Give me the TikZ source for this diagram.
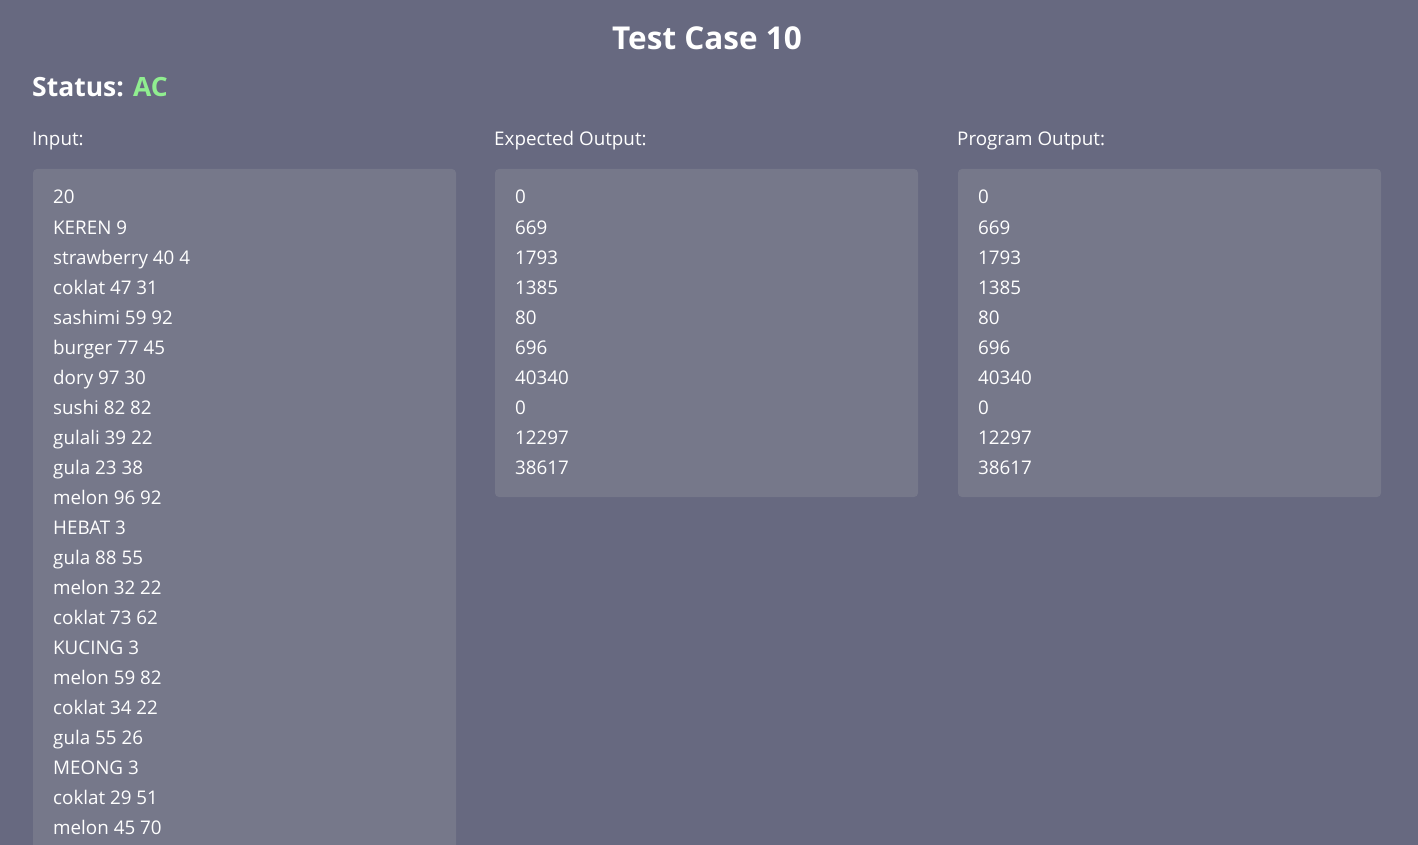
\documentclass[tikz,border=0pt]{standalone}
\usepackage{fontspec}
\setmainfont{Open Sans}
\usetikzlibrary{positioning}
\definecolor{pagebg}{RGB}{103,105,128}
\definecolor{boxbg}{RGB}{118,120,138}
\definecolor{acgreen}{RGB}{144,238,144}

\begin{document}
\begin{tikzpicture}[x=1pt,y=-1pt,every node/.style={inner sep=0pt,text=white},
        line/.style={anchor=base west, font=\fontsize{18.8}{23}\selectfont},
        head/.style={anchor=base west, font=\fontsize{18.8}{23}\selectfont},
        panel/.style={fill=boxbg, rounded corners=4pt}]

        \useasboundingbox (0,0) rectangle (1418,845);
        \fill[pagebg] (0,0) rectangle (1418,845);
        \clip (0,0) rectangle (1418,845);

        \node[anchor=base, font=\fontsize{31.5}{38}\selectfont\bfseries] (title) at (707,50) {Test Case 10};
        \node[anchor=base west, font=\fontsize{26.5}{32}\selectfont\bfseries] (status) at (32,97) {Status: \textcolor{acgreen}{AC}};

        \node[head] (hin)  at (32,146)  {Input:};
        \node[head] (hexp) at (494,146) {Expected Output:};
        \node[head] (hout) at (957,146) {Program Output:};

        \fill[panel] (33,169) rectangle (456,870);
        \fill[panel] (495,169) rectangle (918,497);
        \fill[panel] (958,169) rectangle (1381,497);

        \foreach \t [count=\i] in {20, KEREN 9, strawberry 40 4, coklat 47 31, sashimi 59 92,
            burger 77 45, dory 97 30, sushi 82 82, gulali 39 22, gula 23 38, melon 96 92,
            HEBAT 3, gula 88 55, melon 32 22, coklat 73 62, KUCING 3, melon 59 82,
            coklat 34 22, gula 55 26, MEONG 3, coklat 29 51, melon 45 70}
          \node[line] (in\i) at (53,{204+30*(\i-1)}) {\t};

        \foreach \t [count=\i] in {0, 669, 1793, 1385, 80, 696, 40340, 0, 12297, 38617}{
          \node[line] (exp\i) at (515,{204+30*(\i-1)}) {\t};
          \node[line] (out\i) at (978,{204+30*(\i-1)}) {\t};
        }

      \end{tikzpicture}
\end{document}
